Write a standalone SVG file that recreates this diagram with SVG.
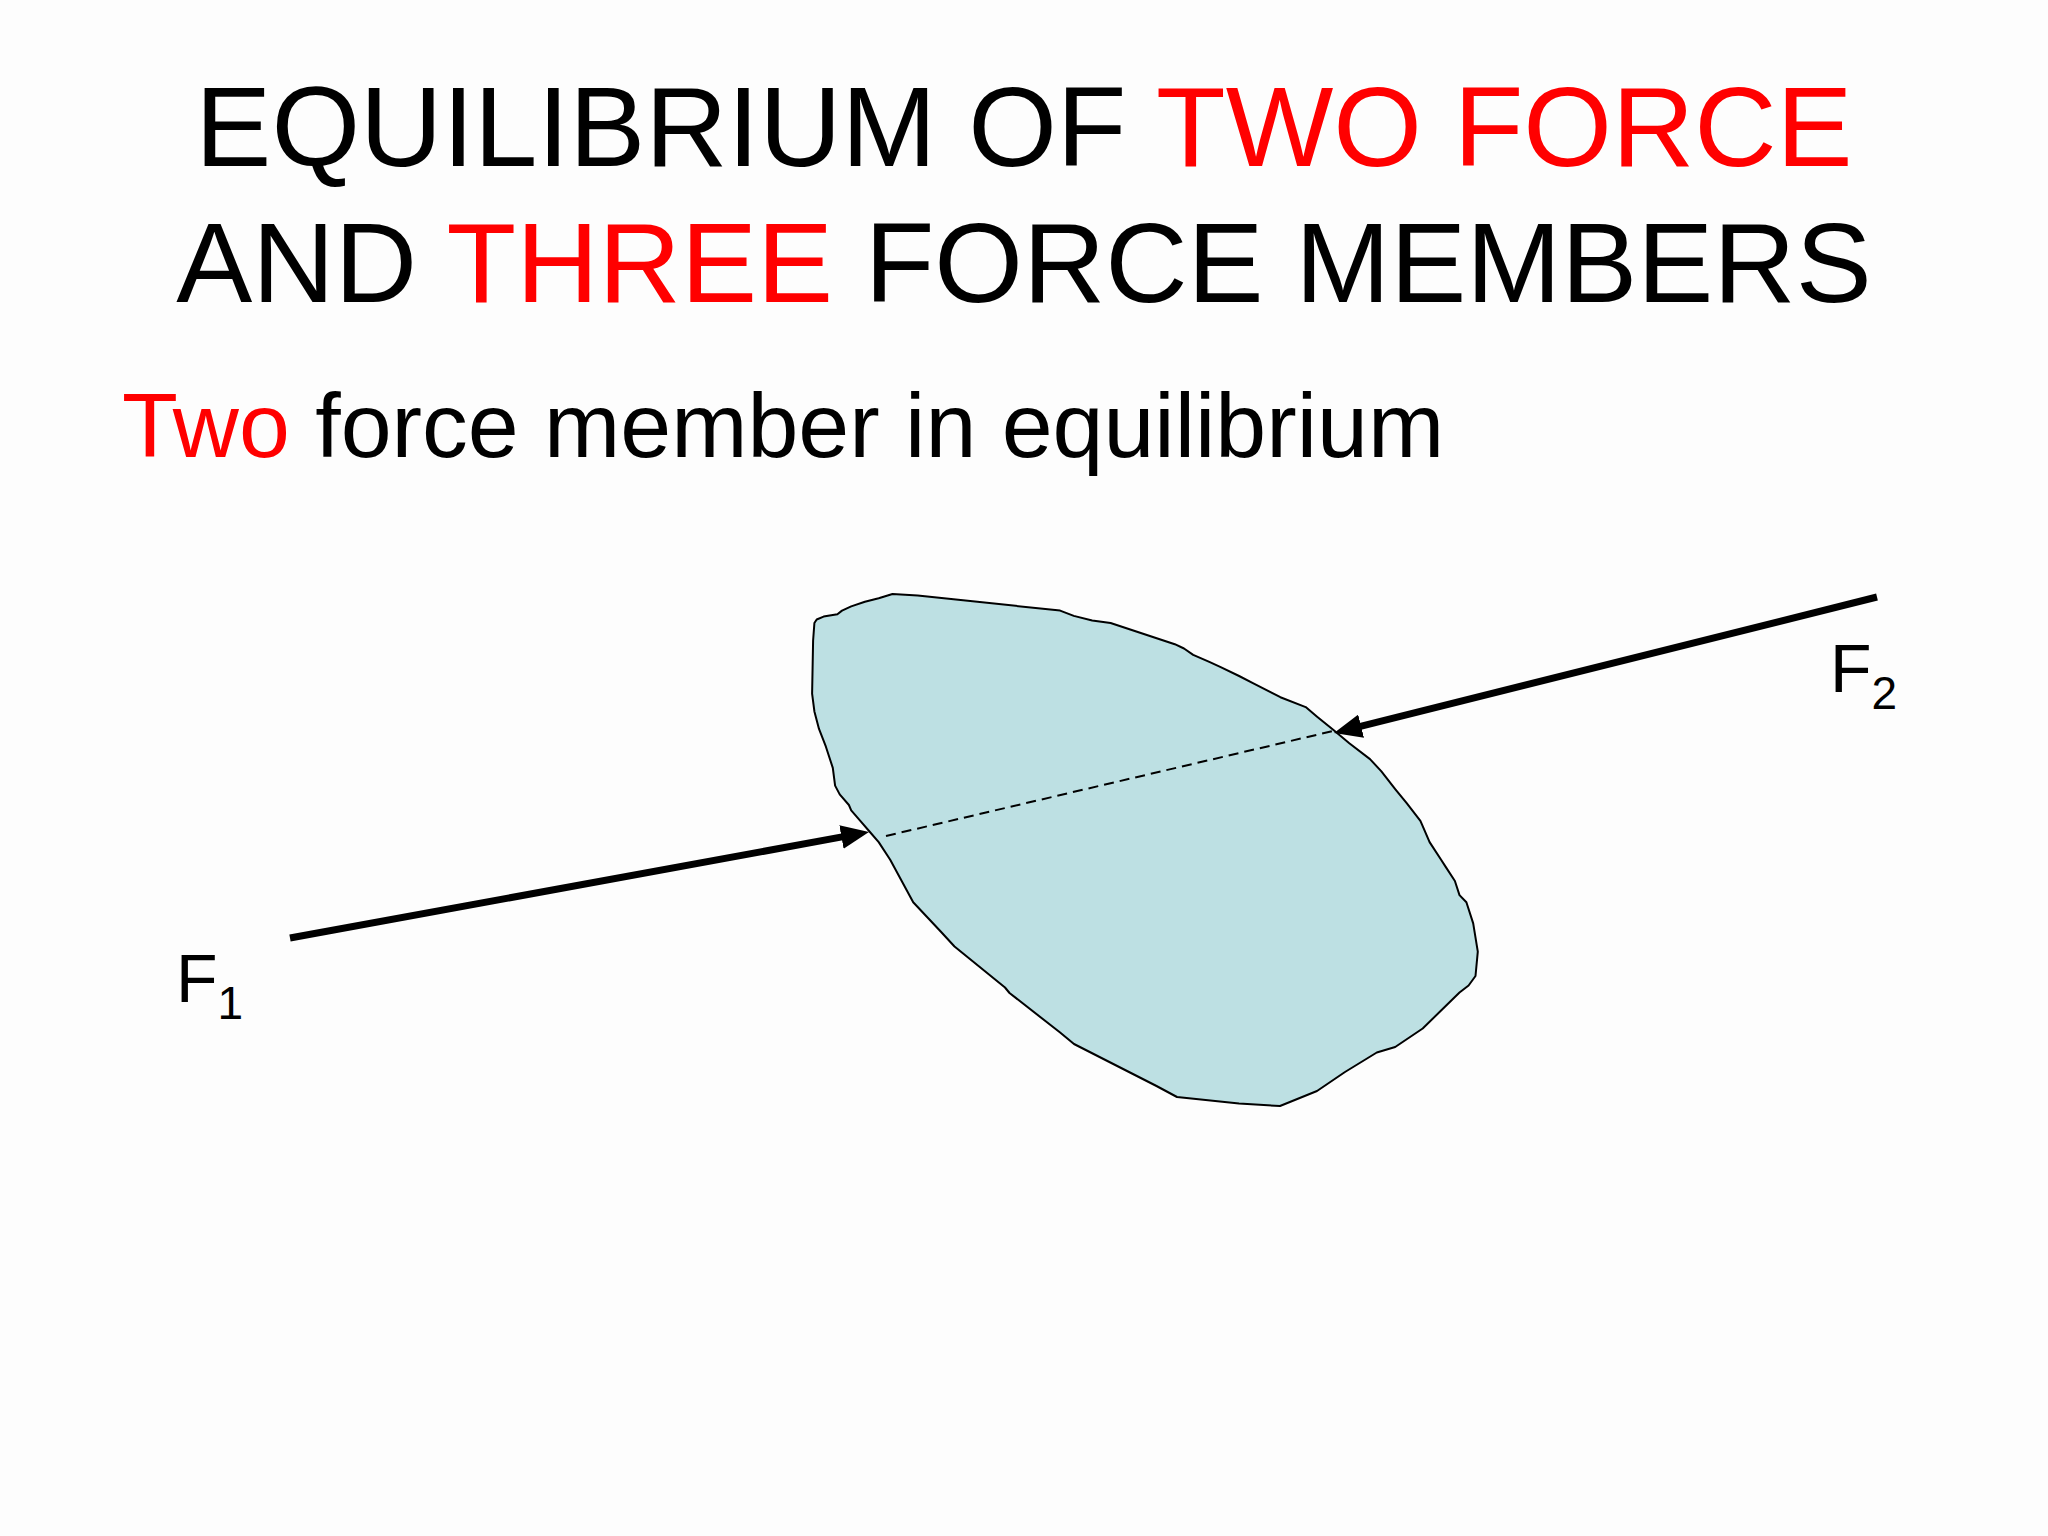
<svg xmlns="http://www.w3.org/2000/svg" width="2048" height="1536" viewBox="0 0 2048 1536">
<style>
.t{font-family:"Liberation Sans",Arial,sans-serif;fill:#000}
.r{fill:#ff0000}
.force{stroke:#000;stroke-width:7;fill:none;marker-end:url(#ah)}
.dash{stroke:#000;stroke-width:2;stroke-dasharray:10 6;fill:none}
.body{fill:#bde0e3;stroke:#000;stroke-width:2;stroke-linejoin:round}
</style>
<defs>
<marker id="ah" viewBox="0 0 28 24" refX="9" refY="12" markerWidth="28" markerHeight="24" markerUnits="userSpaceOnUse" orient="auto">
<path d="M0,0 L28,12 L0,24 z" fill="#000"/>
</marker>
</defs>
<rect width="2048" height="1536" fill="#fdfdfd"/>
<g id="title">
<text class="t" x="1024" y="166" font-size="114" text-anchor="middle">EQUILIBRIUM OF <tspan class="r">TWO FORCE</tspan></text>
<text class="t" x="1024" y="302" font-size="114" text-anchor="middle">AND <tspan class="r">THREE</tspan> FORCE MEMBERS</text>
</g>
<g id="subtitle">
<text class="t" x="122" y="457" font-size="91.5"><tspan class="r">Two</tspan> force member in equilibrium</text>
</g>
<g id="body">
<path class="body" d="M814.4,623 L816.7,619.5 L823.6,616.6 L837.4,614.2 L842,610.6 L851.2,606.4 L864.9,601.8 L878.7,598.3 L892.5,594 L917.7,595.4 L1060.1,610.6 L1073.8,615.9 L1092.2,620.5 L1110.6,623 L1174.8,644.2 L1184,648.5 L1193.2,654.8 L1209.3,661.9 L1220.7,667.2 L1239.1,676 L1252.9,683.1 L1266.6,690.2 L1280.4,697.2 L1305.7,707.1 L1317.1,716.7 L1333.2,729.7 L1349.3,743.2 L1370,759.1 L1381.4,771.4 L1395.2,789.1 L1406.7,803.2 L1420.4,820.9 L1422.7,826.2 L1429.6,842.1 L1441.1,859.8 L1445.7,866.9 L1454.9,881 L1459.5,895.1 L1466.4,902.2 L1473.2,923.4 L1477.8,951.7 L1475.5,976 L1468.6,985.5 L1459.5,992.5 L1441.1,1010.5 L1422.7,1028.5 L1395.2,1047 L1376.8,1052.5 L1345,1072 L1317,1091 L1280,1106 L1239,1103.5 L1177,1097 L1156.5,1086 L1074,1044 L1060.1,1032.5 L1009.5,993 L1005,987.5 L954.5,946.5 L940.7,931.5 L913.2,902.2 L901.7,881 L890.2,859.8 L878.7,842.1 L869.5,831.5 L860.3,820.9 L851.2,810.3 L848.9,805 L839.7,794.4 L835.1,785.6 L832.8,767.9 L825.9,746.7 L819,728.9 L814.4,711.4 L812.1,693.7 L813.1,640.7 Z"/>
</g>
<g id="connectors">
<line class="dash" x1="886" y1="836" x2="1333" y2="731"/>
<line id="f1-line" class="force" x1="290" y1="938" x2="850.3" y2="835.4"/>
<line id="f2-line" class="force" x1="1877" y1="597" x2="1352.4" y2="728.4"/>
</g>
<g id="label-f1">
<text class="t" x="176" y="1002" font-size="68">F<tspan font-size="46" dy="17">1</tspan></text>
</g>
<g id="label-f2">
<text class="t" x="1830" y="692" font-size="68">F<tspan font-size="46" dy="17">2</tspan></text>
</g>
</svg>
